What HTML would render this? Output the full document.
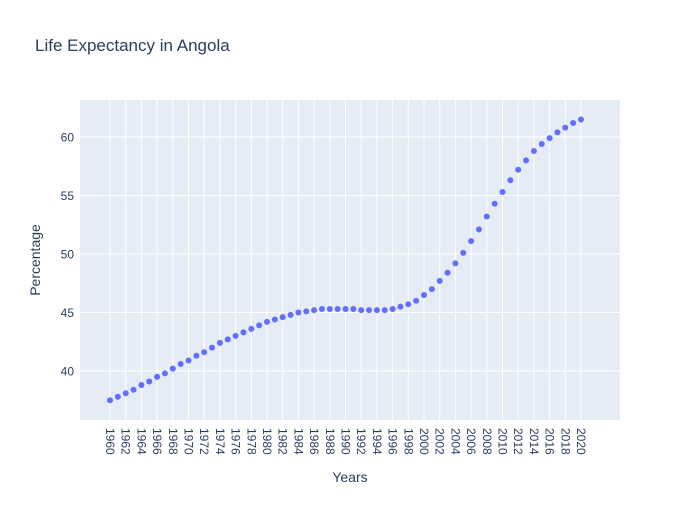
<!DOCTYPE html>
<html><head><meta charset="utf-8"><style>
body{margin:0;background:#fff;font-family:"Liberation Sans",sans-serif;}
svg text{font-family:"Liberation Sans",sans-serif;fill:#2a3f5f;}
</style></head><body>
<svg id="chart" width="700" height="500" xmlns="http://www.w3.org/2000/svg">
<rect width="700" height="500" fill="#fff"/>
<text x="35" y="51" font-size="17">Life Expectancy in Angola</text>
<rect x="80" y="100" width="540" height="320" fill="#e5ecf6"/>
<g id="grid"></g><g id="xticks"></g><g id="yticks"></g><g id="points"></g>
<text x="350" y="482" font-size="14" text-anchor="middle">Years</text>
<text transform="translate(40,260) rotate(-90)" font-size="14" text-anchor="middle">Percentage</text>
</svg>
<script>
const years=[];for(let y=1960;y<=2020;y++)years.push(y);
const values=[37.5,37.8,38.1,38.4,38.8,39.1,39.5,39.8,40.2,40.6,40.9,41.3,41.6,42.0,42.4,42.7,43.0,43.3,43.6,43.9,44.2,44.4,44.6,44.8,45.0,45.1,45.2,45.3,45.3,45.3,45.3,45.3,45.2,45.2,45.2,45.2,45.3,45.5,45.7,46.0,46.5,47.0,47.7,48.4,49.2,50.1,51.1,52.1,53.2,54.3,55.3,56.3,57.2,58.0,58.8,59.4,59.9,60.4,60.8,61.2,61.5];
const yTicks=[40,45,50,55,60];
const xTicks=[];for(let y=1960;y<=2020;y+=2)xTicks.push(y);
const NS="http://www.w3.org/2000/svg";
const xs=v=>110+(v-1960)*(471/60);
const ys=v=>371-(v-40)*11.7;
function mk(t,a,p){const e=document.createElementNS(NS,t);for(const k in a)e.setAttribute(k,a[k]);document.getElementById(p).appendChild(e);return e;}
yTicks.forEach(v=>{
 const l=mk('line',{x1:80,x2:620,y1:ys(v),y2:ys(v),stroke:'#fff','stroke-width':1},'grid');
 
 
 const t=mk('text',{x:74,y:ys(v)+4.5,'font-size':12,'text-anchor':'end'},'yticks');t.textContent=v;
 
 
});
xTicks.forEach(v=>{
 const l=mk('line',{x1:xs(v),x2:xs(v),y1:100,y2:420,stroke:'#fff','stroke-width':1},'grid');
 
 
 const t=mk('text',{transform:`translate(${xs(v)-4},428) rotate(90)`,'font-size':12},'xticks');t.textContent=v;
 
 
});
years.forEach((y,i)=>{
 const c=mk('circle',{cx:xs(y),cy:ys(values[i]),r:3,fill:'#636efa'},'points');
 
 
});
</script>
</body></html>
